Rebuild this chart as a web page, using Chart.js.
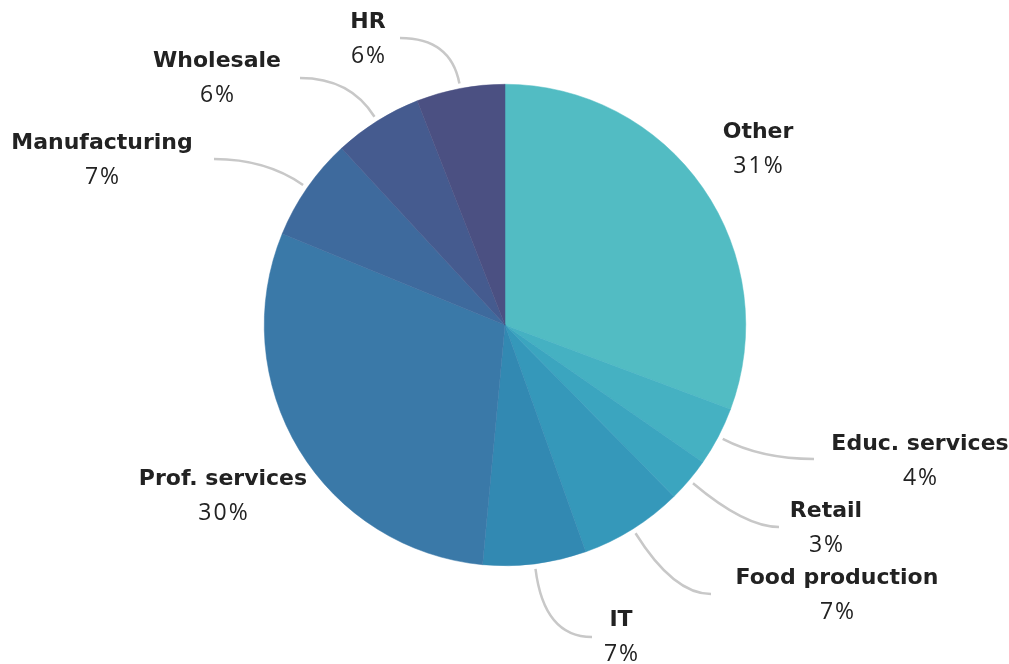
<!DOCTYPE html>
<html>
<head>
<meta charset="utf-8">
<script src="https://cdn.jsdelivr.net/npm/chart.js@4"></script>
<style>
  html, body { margin: 0; padding: 0; background: #fff; }
  canvas { display: block; }
</style>
</head>
<body>
<canvas id="pie" width="1009" height="664"></canvas>
<script>
const sectors = ['Other', 'Educ. services', 'Retail', 'Food production', 'IT', 'Prof. services', 'Manufacturing', 'Wholesale', 'HR'];
const shares = [31, 4, 3, 7, 7, 30, 7, 6, 6];
const colors = ['#52bcc3', '#45b1c2', '#3ba5bf', '#3598ba', '#3289b2', '#3a79a8', '#3e6a9d', '#455b8f', '#4b5082'];

// label block centre (name line) and where the leader line ends, per slice
const labelAt = [[758, 132], [920, 444], [826, 511], [837, 578], [621, 620], [223, 479], [102, 143], [217, 61], [368, 22]];
const lineEnd = [null, [814, 459], [779, 527], [711, 594], [592, 637], null, [214, 159], [300, 78], [400, 38]];

const labelPlugin = {
    id: 'outsideLabels',
    afterDraw(chart) {
        const ctx = chart.ctx;
        const arcs = chart.getDatasetMeta(0).data;
        ctx.save();

        arcs.forEach((arc, i) => {
            const end = lineEnd[i];
            if (!end) return;
            const mid = (arc.startAngle + arc.endAngle) / 2;
            const dx = Math.cos(mid);
            const dy = Math.sin(mid);
            const sx = arc.x + dx * (arc.outerRadius + 5);
            const sy = arc.y + dy * (arc.outerRadius + 5);
            // control point where the radial direction meets the label's horizontal
            const t = Math.abs(dy) > 0.05 ? (end[1] - sy) / dy : 0;
            const cx = sx + dx * t;
            const cy = end[1];
            ctx.beginPath();
            ctx.moveTo(sx, sy);
            ctx.quadraticCurveTo(cx, cy, end[0], end[1]);
            ctx.strokeStyle = '#c8c8c8';
            ctx.lineWidth = 2.5;
            ctx.stroke();
        });

        ctx.fillStyle = '#222';
        ctx.textAlign = 'center';
        ctx.textBaseline = 'middle';
        sectors.forEach((name, i) => {
            const [x, y] = labelAt[i];
            ctx.font = 'bold 22px "DejaVu Sans", sans-serif';
            ctx.fillText(name, x, y);
            ctx.font = '23px "Open Sans", sans-serif';
            ctx.letterSpacing = '2px';
            ctx.fillText(shares[i] + '%', x + 1, y + 34);
            ctx.letterSpacing = '0px';
        });
        ctx.restore();
    },
};

const ctx = document.getElementById('pie').getContext('2d');

const myChart = new Chart(ctx, {
    type: 'pie',
    data: {
        labels: sectors,
        datasets: [
            {
                data: shares,
                backgroundColor: colors,
                borderColor: colors,
                borderWidth: 0.5,
            },
        ],
    },
    options: {
        responsive: false,
        animation: false,
        layout: {
            padding: { left: 264, right: 263, top: 84, bottom: 98 },
        },
        plugins: {
            legend: { display: false },
            tooltip: { enabled: false },
        },
    },
    plugins: [labelPlugin],
});
</script>
</body>
</html>
